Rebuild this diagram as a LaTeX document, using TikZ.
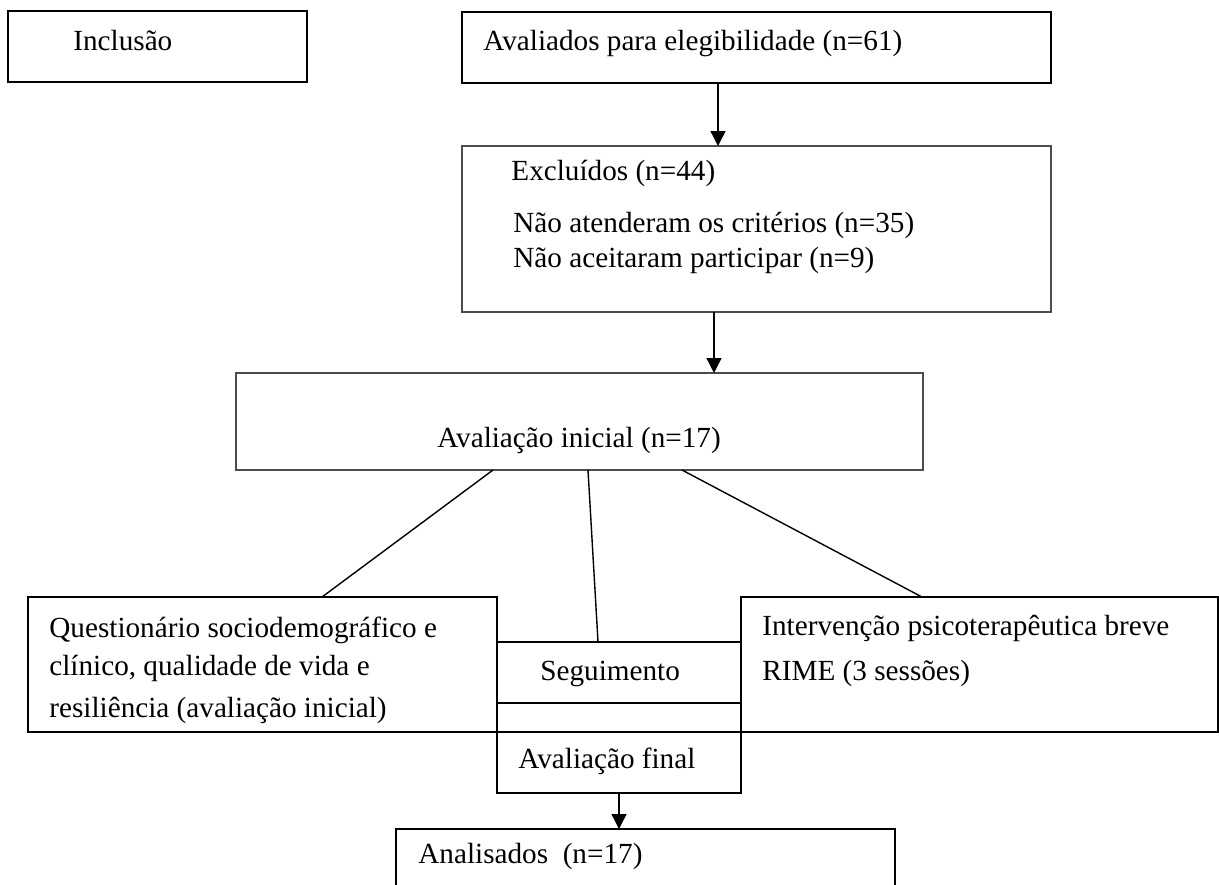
\documentclass[tikz,border=0pt]{standalone}
\usepackage{fontspec}
\setmainfont{Liberation Serif}
\usetikzlibrary{arrows.meta}
\begin{document}
\begin{tikzpicture}[x=0.5pt,y=-0.5pt,
  every node/.style={font=\fontsize{14.6pt}{17pt}\selectfont},
  boxthick/.style={draw=black, line width=1.1pt, inner sep=0pt, outer sep=0pt},
  boxmid/.style={draw=black, line width=0.8pt, inner sep=0pt, outer sep=0pt},
  boxthin/.style={draw=black!70, line width=0.65pt, inner sep=0pt, outer sep=0pt},
  lbl/.style={inner sep=0pt, anchor=base west},
  arr/.style={line width=0.7pt, -{Triangle[length=7.5pt,width=7.5pt]}},
  conn/.style={line width=0.7pt}]
\useasboundingbox (0,0) rectangle (1219,884);
\clip (0,0) rectangle (1219,884);
% boxes
\node[boxthick, minimum width=149.5pt, minimum height=35.5pt] (inclusao) at (157.5,46.5) {};
\node[boxthick, minimum width=294.5pt, minimum height=35.5pt] (avaliados) at (756.5,47.5) {};
\node[boxthin, minimum width=294.5pt, minimum height=83pt] (excluidos) at (756.5,229) {};
\node[boxthin, minimum width=343.5pt, minimum height=48.5pt] (inicial) at (579.5,421.5) {};
\node[boxmid, minimum width=234.5pt, minimum height=67.5pt] (quest) at (262.5,664.5) {};
\node[boxmid, minimum width=238.5pt, minimum height=67.5pt] (interv) at (979.5,664.5) {};
\node[boxmid, minimum width=122pt, minimum height=30.5pt] (seg) at (619,672.5) {};
\node[boxmid, minimum width=122pt, minimum height=30.5pt] (final) at (619,762.5) {};
\node[boxmid, minimum width=249.5pt, minimum height=45.5pt] (analis) at (645.5,874.5) {};
% texts
\node[lbl] (tinc) at (73,50) {Inclusão};
\node[lbl] (tava) at (483,50) {Avaliados para elegibilidade (n=61)};
\node[lbl] (texc) at (511,180) {Excluídos (n=44)};
\node[lbl] (texc2) at (513,232) {Não atenderam os critérios (n=35)};
\node[lbl] (texc3) at (513,267) {Não aceitaram participar (n=9)};
\node[inner sep=0pt, anchor=base] (tini) at (579,447) {Avaliação inicial (n=17)};
\node[lbl] (tq1) at (49,637) {Questionário sociodemográfico e};
\node[lbl] (tq2) at (49,675) {clínico, qualidade de vida e};
\node[lbl] (tq3) at (49,717) {resiliência (avaliação inicial)};
\node[lbl] (ti1) at (762,635) {Intervenção psicoterapêutica breve};
\node[lbl] (ti2) at (762,680) {RIME (3 sessões)};
\node[lbl] (tseg) at (540,680) {Seguimento};
\node[lbl] (tfin) at (518,768) {Avaliação final};
\node[lbl] (tana) at (418,863) {Analisados\ \ (n=17)};
% connectors
\draw[arr] ([xshift=128pt]avaliados.south west) -- ([xshift=128pt]excluidos.north west);
\draw[arr] ([xshift=126pt]excluidos.south west) -- ([xshift=239pt]inicial.north west);
\draw[conn] ([xshift=128.5pt]inicial.south west) -- ([xshift=147pt]quest.north west);
\draw[conn] ([xshift=176pt]inicial.south west) -- ([xshift=50.5pt]seg.north west);
\draw[conn] ([xshift=223pt]inicial.south west) -- ([xshift=90.5pt]interv.north west);
\draw[arr] (final.south) -- ([xshift=111.5pt]analis.north west);
\end{tikzpicture}
\end{document}
